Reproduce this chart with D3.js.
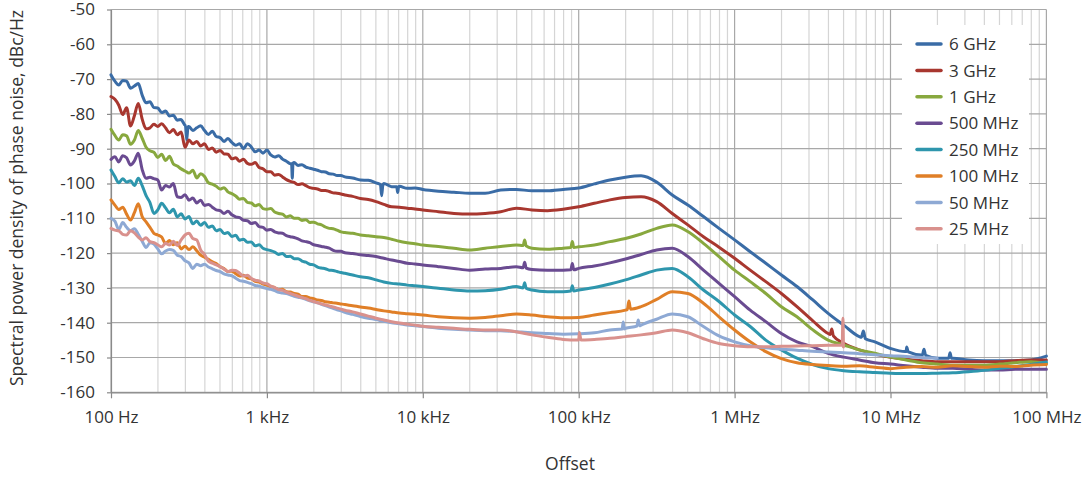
<!DOCTYPE html>
<html><head><meta charset="utf-8">
<script src="https://cdn.jsdelivr.net/npm/d3@7"></script>
<style>
body{margin:0;background:#fff}
svg{display:block}
text{font-family:"Open Sans",sans-serif;fill:#333}
</style>
</head><body>
<svg id="chart" width="1091" height="478"></svg>
<script>
// offset frequencies (Hz)
const offsetsHz = [
100,105.9,112.2,118.9,125.9,133.4,141.3,149.6,158.5,167.9,177.8,188.4,199.5,211.3,223.9,237.1,251.2,266.1,281.8,298.5,
316.2,335.0,354.8,375.8,398.1,421.7,446.7,473.2,501.2,530.9,562.3,595.7,631.0,668.3,707.9,749.9,794.3,841.4,891.3,944.1,
1000,1059,1122,1189,1259,1334,1413,1496,1585,1679,1778,1884,1995,2113,2239,2371,2512,2661,2818,2985,3162,
3548,3981,4467,5012,5623,6310,7079,7943,8913,10000,
12589,15849,19953,25119,31623,39811,50119,63096,79433,1e5,
125893,158489,199526,251189,316228,398107,501187,630957,794328,1e6,
1.259e6,1.585e6,1.995e6,2.512e6,3.162e6,3.981e6,5.012e6,6.310e6,7.943e6,1e7,
1.259e7,1.585e7,1.995e7,2.512e7,3.162e7,3.981e7,5.012e7,6.310e7,7.943e7,1e8];

const seriesNames = ["6 GHz","3 GHz","1 GHz","500 MHz","250 MHz","100 MHz","50 MHz","25 MHz"];
const seriesColors = ["#3a6ca6","#a8372f","#88a83e","#6a4b91","#2e96ad","#e07f27","#8ea9d4","#d9918d"];

const s6GHz = [
-68.8,-70.6,-71.7,-70.4,-70.6,-72.6,-72.0,-71.3,-74.6,-76.8,-76.5,-78.2,-78.3,-79.6,-79.2,-80.6,-80.4,-81.8,-81.6,-83.2,
-83.6,-84.8,-84.0,-83.4,-84.8,-85.9,-85.0,-86.5,-86.8,-87.9,-87.1,-88.2,-89.0,-88.6,-90.0,-88.6,-89.5,-90.9,-90.4,-91.3,
-90.4,-91.8,-92.4,-92.0,-93.0,-93.6,-94.3,-94.0,-94.8,-94.6,-95.3,-95.6,-95.9,-96.2,-96.6,-96.7,-97.2,-97.3,-97.7,-97.7,-98.1,
-98.4,-99.0,-99.1,-99.8,-100.0,-100.9,-100.8,-101.4,-101.3,-101.7,
-102.2,-102.5,-102.8,-102.8,-101.9,-101.7,-102.1,-102.1,-101.7,-101.3,
-100.1,-99.0,-98.2,-97.8,-99.6,-103.3,-106.2,-109.5,-112.9,-116.2,
-119.6,-122.9,-126.3,-129.6,-133.4,-137.3,-140.7,-144.0,-145.5,-147.4,
-148.3,-149.3,-150.2,-150.2,-150.7,-150.9,-150.9,-150.9,-150.7,-149.6];
const s3GHz = [
-75.0,-75.8,-77.5,-80.2,-78.2,-83.5,-80.5,-77.0,-81.5,-84.3,-84.0,-83.0,-83.6,-82.8,-84.0,-85.4,-84.5,-86.0,-85.2,-89.6,
-87.5,-88.6,-87.9,-89.2,-88.6,-90.2,-89.8,-91.0,-90.5,-91.5,-91.6,-92.9,-92.6,-93.6,-93.0,-94.2,-94.5,-94.0,-95.4,-95.8,
-96.6,-96.6,-97.6,-97.4,-98.1,-98.9,-99.4,-99.7,-100.3,-100.1,-100.6,-101.2,-101.4,-101.6,-102.0,-102.0,-102.3,-102.7,-102.8,-103.0,-103.3,
-103.7,-104.3,-104.6,-105.2,-106.0,-106.7,-106.8,-107.1,-107.3,-107.6,
-108.1,-108.6,-108.8,-108.6,-108.1,-107.1,-107.6,-107.8,-107.4,-106.7,
-105.7,-104.7,-104.0,-103.8,-105.2,-108.6,-111.9,-115.3,-118.3,-121.5,
-124.9,-128.2,-131.6,-135.4,-139.4,-143.1,-145.9,-147.8,-149.0,-149.9,
-150.5,-150.9,-151.2,-151.2,-151.2,-151.2,-151.2,-150.9,-150.7,-150.7];
const s1GHz = [
-84.4,-86.2,-87.5,-86.0,-86.3,-88.7,-87.5,-84.8,-87.0,-89.6,-90.6,-91.0,-92.5,-91.6,-93.4,-92.2,-94.4,-95.0,-95.8,-96.4,
-97.0,-96.2,-98.4,-97.2,-98.0,-99.8,-100.2,-100.8,-101.6,-101.2,-102.4,-102.9,-103.6,-104.5,-104.3,-105.4,-105.6,-106.4,-106.0,-107.2,
-107.4,-107.2,-108.2,-108.6,-108.8,-109.6,-109.3,-110.0,-110.0,-110.6,-110.4,-111.2,-111.1,-111.6,-111.9,-112.5,-112.9,-113.0,-113.4,-113.9,-114.1,
-114.3,-114.8,-115.0,-115.3,-115.5,-116.0,-116.6,-117.0,-117.3,-117.7,
-118.1,-118.6,-119.1,-118.6,-118.1,-117.7,-118.6,-118.9,-118.6,-118.2,
-117.7,-116.7,-115.8,-114.5,-112.9,-111.9,-113.8,-117.2,-121.0,-124.9,
-128.2,-131.6,-135.4,-138.3,-142.0,-145.0,-146.4,-147.8,-148.8,-149.9,
-150.7,-151.5,-151.9,-152.2,-152.2,-152.2,-151.9,-151.5,-151.2,-151.7];
const s500MHz = [
-93.1,-92.3,-93.8,-92.0,-92.6,-94.7,-93.5,-91.3,-96.0,-98.5,-98.2,-98.6,-99.0,-101.9,-100.6,-101.0,-100.0,-103.8,-104.0,-103.2,
-104.8,-104.2,-105.6,-104.8,-106.3,-106.0,-106.8,-107.6,-107.8,-108.6,-108.0,-109.0,-109.6,-109.8,-110.6,-110.7,-111.5,-111.2,-112.4,-112.6,
-113.4,-113.2,-113.9,-114.2,-114.3,-115.0,-115.3,-115.5,-115.9,-116.5,-116.7,-117.0,-117.6,-117.8,-118.1,-118.3,-118.6,-119.2,-119.5,-119.5,-119.9,
-120.1,-120.5,-120.7,-121.0,-121.5,-122.0,-122.4,-122.9,-123.1,-123.4,
-123.9,-124.4,-124.9,-124.6,-124.4,-123.9,-124.7,-124.9,-124.9,-124.4,
-123.7,-122.8,-121.7,-120.4,-119.1,-118.6,-121.0,-124.9,-128.7,-132.5,
-136.4,-139.7,-143.1,-145.5,-146.9,-148.8,-149.9,-150.7,-151.5,-151.9,
-152.4,-152.8,-153.1,-153.1,-153.4,-153.6,-153.6,-153.4,-153.4,-153.4];
const s250MHz = [
-96.1,-98.0,-99.8,-98.6,-99.6,-99.2,-100.6,-98.5,-100.6,-103.5,-105.5,-108.6,-107.6,-105.7,-107.0,-108.4,-107.4,-109.6,-108.7,-110.2,
-109.5,-111.6,-110.8,-112.0,-111.2,-112.6,-112.2,-113.6,-113.2,-114.4,-114.1,-115.2,-114.9,-116.3,-116.0,-116.9,-116.8,-117.9,-117.6,-118.6,
-119.0,-119.3,-119.7,-120.4,-120.1,-121.0,-120.9,-121.6,-121.6,-122.3,-122.6,-123.2,-123.4,-124.0,-124.3,-124.5,-124.9,-125.0,-125.3,-125.6,-125.8,
-126.3,-126.8,-127.1,-127.7,-128.3,-128.7,-128.9,-129.2,-129.4,-129.6,
-130.1,-130.6,-130.9,-130.8,-130.4,-129.6,-130.6,-131.1,-131.1,-130.6,
-129.9,-128.9,-127.7,-126.3,-124.9,-124.4,-126.8,-130.6,-133.9,-137.8,
-141.1,-145.0,-147.8,-150.2,-152.0,-153.2,-153.8,-154.1,-154.3,-154.5,
-154.6,-154.6,-154.5,-154.4,-154.1,-153.7,-153.1,-152.6,-152.0,-151.3];
const s100MHz = [
-104.7,-106.2,-107.5,-106.8,-108.8,-110.5,-108.4,-105.8,-109.5,-111.0,-112.6,-114.3,-114.8,-115.4,-117.2,-116.4,-117.6,-117.0,-118.8,-118.0,
-119.0,-118.2,-119.3,-120.6,-121.2,-121.8,-122.5,-123.0,-123.9,-124.4,-125.3,-125.2,-125.9,-126.6,-126.4,-127.2,-127.4,-128.1,-128.3,-128.9,
-129.2,-129.6,-129.9,-130.5,-130.4,-131.1,-131.2,-131.6,-131.8,-132.5,-132.5,-132.9,-133.1,-133.5,-133.6,-134.0,-134.1,-134.3,-134.4,-134.6,-134.8,
-135.1,-135.5,-135.8,-136.2,-136.6,-136.9,-137.2,-137.4,-137.6,-137.8,
-138.3,-138.6,-138.7,-138.5,-138.0,-137.5,-137.8,-138.3,-138.6,-138.5,
-137.8,-137.1,-136.4,-135.4,-133.3,-131.1,-131.6,-134.4,-138.3,-142.1,
-145.5,-148.3,-150.3,-151.5,-152.0,-152.3,-152.5,-152.4,-152.8,-153.2,
-152.8,-152.6,-152.8,-152.4,-152.6,-152.8,-152.5,-152.6,-152.2,-152.0];
const s50MHz = [
-110.0,-110.8,-113.2,-111.2,-112.6,-113.6,-113.0,-114.6,-116.6,-118.4,-117.0,-117.4,-118.8,-120.2,-119.4,-119.0,-119.2,-120.6,-121.0,-122.2,
-122.8,-124.4,-123.2,-123.6,-123.2,-124.0,-124.5,-125.0,-125.3,-126.0,-126.3,-126.5,-127.2,-127.9,-128.1,-128.4,-128.8,-129.3,-129.5,-129.9,
-130.2,-130.4,-130.8,-131.3,-131.5,-131.6,-132.0,-132.4,-132.7,-132.9,-133.3,-133.7,-134.0,-134.3,-134.7,-135.1,-135.5,-135.9,-136.3,-136.6,-137.0,
-137.6,-138.2,-138.7,-139.1,-139.6,-140.0,-140.3,-140.7,-140.9,-141.1,
-141.6,-141.9,-142.1,-142.3,-142.3,-142.6,-142.9,-143.1,-143.3,-143.2,
-142.9,-142.1,-141.6,-140.7,-139.0,-137.5,-138.3,-141.1,-143.8,-145.5,
-146.6,-147.2,-147.6,-147.9,-148.2,-148.4,-148.6,-148.9,-149.2,-149.5,
-149.7,-150.0,-150.2,null,null,null,null,null,null,null];
const s25MHz = [
-112.9,-113.4,-113.6,-114.6,-114.8,-113.6,-114.2,-115.4,-116.2,-115.6,-116.7,-117.0,-117.6,-118.2,-117.2,-117.7,-116.6,-117.8,-116.2,-114.8,
-114.3,-115.8,-116.2,-119.1,-120.4,-122.3,-122.9,-123.4,-123.9,-124.6,-125.3,-124.9,-125.0,-125.8,-126.6,-126.4,-127.3,-127.8,-128.0,-128.6,
-128.8,-129.5,-129.9,-130.5,-130.7,-131.2,-131.6,-132.0,-132.4,-132.8,-133.1,-133.6,-133.9,-134.3,-134.6,-134.9,-135.2,-135.5,-135.8,-136.1,-136.4,
-136.9,-137.5,-138.1,-138.7,-139.2,-139.7,-140.1,-140.4,-140.7,-141.0,
-141.3,-141.6,-141.9,-142.1,-142.1,-142.6,-143.5,-144.2,-144.8,-145.0,
-144.8,-144.5,-144.0,-143.5,-142.9,-142.1,-142.9,-144.6,-146.0,-146.6,
-146.9,-146.9,-146.8,-146.7,-146.6,-146.5,null,null,null,null,
null,null,null,null,null,null,null,null,null,null];

// narrow spurs / dips: [offset Hz, dBc/Hz]
const spurs6GHz = [[300,-83.2],[306,-87.5],[312,-83.6],[1440,-94.3],[1455,-98.5],[1470,-94.2],[5350,-100.3],[5445,-103.5],[5540,-100.5],[6800,-100.9],[6900,-102.6],[7000,-100.9],[6.5e6,-144.2],[6.7e6,-142.4],[6.9e6,-144.6],[1.24e7,-148.3],[1.27e7,-147.0],[1.30e7,-148.4],[1.60e7,-149.3],[1.64e7,-147.6],[1.68e7,-149.4],[2.36e7,-150.2],[2.41e7,-148.6],[2.46e7,-150.2]];
const spurs3GHz = [[4.1e6,-143.4],[4.2e6,-141.8],[4.3e6,-143.8]];
const spurs1GHz = [[44000,-117.8],[45000,-116.2],[46000,-117.9],[89000,-118.4],[91000,-116.7],[93000,-118.4]];
const spurs500MHz = [[44000,-124.2],[45000,-122.6],[46000,-124.3],[89000,-124.8],[91000,-123.0],[93000,-124.8]];
const spurs250MHz = [[44000,-130.0],[45000,-128.5],[46000,-130.1],[89000,-130.9],[91000,-129.4],[93000,-130.9]];
const spurs100MHz = [[205000,-136.2],[210000,-133.8],[215000,-136.1]];
const spurs50MHz = [[190000,-141.8],[193000,-139.8],[196000,-141.8],[236000,-141.0],[241000,-139.2],[246000,-140.9]];
const spurs25MHz = [[98500,-145.0],[101000,-142.8],[103500,-145.0],[4.9e6,-146.4],[4.95e6,-138.7],[4.99e6,-147.0]];

const yTickValues = [-160,-150,-140,-130,-120,-110,-100,-90,-80,-70,-60,-50];
const yTickLabels = ["-160","-150","-140","-130","-120","-110","-100","-90","-80","-70","-60","-50"];
const xTickValues = [1e2,1e3,1e4,1e5,1e6,1e7,1e8];
const xTickLabels = ["100 Hz","1 kHz","10 kHz","100 kHz","1 MHz","10 MHz","100 MHz"];

const seriesValues = [s6GHz,s3GHz,s1GHz,s500MHz,s250MHz,s100MHz,s50MHz,s25MHz];
const seriesSpurs = [spurs6GHz,spurs3GHz,spurs1GHz,spurs500MHz,spurs250MHz,spurs100MHz,spurs50MHz,spurs25MHz];

const svg = d3.select("#chart");
const x = d3.scaleLog().domain([100,1e8]).range([111,1046.4]);
const y = d3.scaleLinear().domain([-160,-50]).range([392.3,9.5]);

const grid = svg.append("g");
const allTicks = x.ticks();
grid.selectAll("line.minor").data(allTicks.filter(t => !xTickValues.includes(t)))
  .enter().append("line")
  .attr("x1", d => x(d)).attr("x2", d => x(d))
  .attr("y1", y(-50)).attr("y2", y(-160))
  .attr("stroke", "#d5d5d5").attr("stroke-width", 1.2);
grid.selectAll("line.h").data(yTickValues).enter().append("line")
  .attr("x1", x(100)).attr("x2", x(1e8))
  .attr("y1", d => y(d)).attr("y2", d => y(d))
  .attr("stroke", "#a8a8a8").attr("stroke-width", 1.2);
grid.selectAll("line.major").data(xTickValues).enter().append("line")
  .attr("x1", d => x(d)).attr("x2", d => x(d))
  .attr("y1", y(-50)).attr("y2", y(-160))
  .attr("stroke", "#a8a8a8").attr("stroke-width", 1.2);

// legend background
svg.append("rect").attr("x", 902).attr("y", 25).attr("width", 127).attr("height", 219).attr("fill", "#fff");

// axes
const xAxis = svg.append("g").attr("transform", `translate(0,${y(-160)})`)
  .call(d3.axisBottom(x).tickValues(xTickValues).tickFormat((d,i) => xTickLabels[i]).tickSizeInner(6).tickSizeOuter(0).tickPadding(13));
const yAxis = svg.append("g").attr("transform", `translate(${x(100)},0)`)
  .call(d3.axisLeft(y).tickValues(yTickValues).tickFormat((d,i) => yTickLabels[i]).tickSizeInner(4).tickSizeOuter(0).tickPadding(12));
[xAxis, yAxis].forEach(g => {
  g.select(".domain").attr("stroke", "#8a8a8a").attr("stroke-width", 1.2);
  g.selectAll(".tick line").attr("stroke", "#8a8a8a").attr("stroke-width", 1.2);
  g.selectAll("text").attr("font-family", '"Open Sans",sans-serif').attr("font-size", 17).attr("fill", "#333");
});

// series lines
const line = d3.line()
  .defined(d => d[1] !== null)
  .x(d => x(d[0])).y(d => y(d[1]))
  .curve(d3.curveMonotoneX);

seriesValues.forEach((vals, i) => {
  const pts = offsetsHz.map((f, k) => [f, vals[k]]).concat(seriesSpurs[i]).sort((a, b) => a[0] - b[0]);
  svg.append("path").datum(pts)
    .attr("d", line)
    .attr("fill", "none")
    .attr("stroke", seriesColors[i])
    .attr("stroke-width", 3)
    .attr("stroke-linejoin", "round")
    .attr("stroke-linecap", "round");
});

// legend
const lg = svg.append("g");
seriesNames.forEach((name, i) => {
  const ly = 44 + i * 26.4;
  lg.append("line").attr("x1", 917).attr("x2", 941).attr("y1", ly).attr("y2", ly)
    .attr("stroke", seriesColors[i]).attr("stroke-width", 3.5).attr("stroke-linecap", "round");
  lg.append("text").attr("x", 949).attr("y", ly).attr("dy", "0.36em")
    .attr("font-size", 17).text(name);
});

// axis titles
svg.append("text").attr("transform", "translate(22.5,198) rotate(-90)")
  .attr("text-anchor", "middle").attr("font-size", 17.5)
  .text("Spectral power density of phase noise, dBc/Hz");
svg.append("text").attr("x", 570).attr("y", 470).attr("text-anchor", "middle")
  .attr("font-size", 17.5).text("Offset");
</script>
</body></html>
